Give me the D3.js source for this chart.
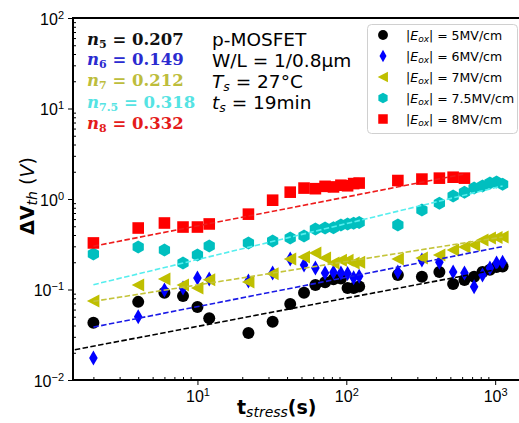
<!DOCTYPE html>
<html>
<head>
<meta charset="utf-8">
<script src="https://cdn.jsdelivr.net/npm/d3@7"></script>
<style>
  body { margin: 0; background: #fff; }
  svg { font-family: "DejaVu Sans", sans-serif; }
</style>
</head>
<body>
<div id="chart"></div>
<script>
// stress times (s)
const TIMES = [2, 4, 6, 8, 10, 12, 22, 32, 42, 52, 62, 72, 82, 92, 102, 112, 122,
  222, 322, 422, 522, 622, 722, 822, 922, 1022, 1122];

// delta Vth (V) per oxide field
const V_5MV = [0.043, 0.073, 0.092, 0.085, 0.064, 0.048, 0.033, 0.044, 0.069, 0.092, 0.112, 0.12, 0.13, 0.132, 0.104, 0.104, 0.108,
  0.145, 0.138, 0.156, 0.115, 0.127, 0.138, 0.156, 0.165, 0.177, 0.18];
const V_6MV = [0.0175, 0.05, 0.099, 0.104, 0.134, 0.131, 0.124, 0.152, 0.217, 0.187, 0.173, 0.152, 0.155, 0.152, 0.15, 0.135, 0.14,
  0.156, 0.212, 0.2, 0.156, 0.152, 0.107, 0.145, 0.173, 0.196, 0.2];
const V_7MV = [0.0746, 0.112, 0.131, 0.112, 0.104, 0.128, 0.121, 0.149, 0.217, 0.229, 0.253, 0.223, 0.196, 0.21, 0.21, 0.196, 0.2,
  0.217, 0.223, 0.24, 0.273, 0.295, 0.31, 0.352, 0.37, 0.375, 0.38];
const V_75MV = [0.247, 0.295, 0.273, 0.196, 0.24, 0.302, 0.327, 0.343, 0.37, 0.39, 0.466, 0.478, 0.48, 0.516, 0.53, 0.54, 0.55,
  0.516, 0.756, 0.9, 1.08, 1.19, 1.32, 1.39, 1.5, 1.54, 1.46];
const V_8MV = [0.327, 0.478, 0.543, 0.49, 0.49, 0.53, 0.68, 0.97, 1.19, 1.32, 1.3, 1.38, 1.36, 1.42, 1.4, 1.48, 1.5,
  1.6, 1.66, 1.7, 1.74, 1.7];

// power-law fit end points
const FIT_T = [[1.5, 1122], [2, 1122], [2, 1122], [2, 1122], [2, 622]];
const FIT_V = [[0.0216, 0.171], [0.0384, 0.298], [0.074, 0.381], [0.113, 1.395], [0.301, 1.89]];

const FIELD_LABELS = ["5MV/cm", "6MV/cm", "7MV/cm", "7.5MV/cm", "8MV/cm"];
const N_SUBS = ["5", "6", "7", "7.5", "8"];
const N_VALUES = ["0.207", "0.149", "0.212", "0.318", "0.332"];
const INFO_LINES = ["p-MOSFET", "W/L = 1/0.8μm", "T|s|= 27°C", "t|s|= 19min"];

const X_TICKS = [10, 100, 1000];
const Y_TICKS = [1e-2, 1e-1, 1e0, 1e1, 1e2];

const MARKER_COLORS = ["#000000", "#0000ff", "#bfbf00", "#00bfbf", "#ff0000"];
const LINE_COLORS = ["#000000", "#1a1ae6", "#c4c43a", "#55eeee", "#ee1c1c"];
const TEXT_COLORS = ["#111111", "#2b2bd0", "#bdbd3c", "#55e3e3", "#e41b1b"];

const WIDTH = 519, HEIGHT = 423;
const PLOT = { left: 73, right: 523, top: 18, bottom: 380 };

const svg = d3.select("#chart").append("svg")
  .attr("width", WIDTH).attr("height", HEIGHT);

const xScale = d3.scaleLog().domain([Math.pow(10, 0.164), Math.pow(10, 3.187)]).range([PLOT.left, PLOT.right]);
const yScale = d3.scaleLog().domain([1e-2, 1e2]).range([PLOT.bottom, PLOT.top]);

// marker shapes
function markerPath(kind, s) {
  s = s || 1;
  const p = d3.path();
  if (kind === 0) {
    p.arc(0, 0, 6 * s, 0, 2 * Math.PI);
  } else if (kind === 1) {
    p.moveTo(0, -7.5 * s); p.lineTo(4.3 * s, 0); p.lineTo(0, 7.5 * s); p.lineTo(-4.3 * s, 0);
  } else if (kind === 2) {
    p.moveTo(-6.5 * s, 0); p.lineTo(6 * s, -6.5 * s); p.lineTo(6 * s, 6.5 * s);
  } else if (kind === 3) {
    const r = 6.5 * s;
    for (let i = 0; i < 6; i++) {
      const a = -Math.PI / 2 + i * Math.PI / 3;
      if (i === 0) p.moveTo(r * Math.cos(a), r * Math.sin(a));
      else p.lineTo(r * Math.cos(a), r * Math.sin(a));
    }
  } else {
    p.rect(-5.8 * s, -5.8 * s, 11.6 * s, 11.6 * s);
  }
  p.closePath();
  return p.toString();
}

svg.append("clipPath").attr("id", "plotclip").append("rect")
  .attr("x", PLOT.left).attr("y", PLOT.top)
  .attr("width", PLOT.right - PLOT.left).attr("height", PLOT.bottom - PLOT.top);

const plotG = svg.append("g").attr("clip-path", "url(#plotclip)");

const allSeries = [V_5MV, V_6MV, V_7MV, V_75MV, V_8MV];

allSeries.forEach((vals, k) => {
  plotG.selectAll(".m" + k)
    .data(vals)
    .enter()
    .append("path")
    .attr("class", "m" + k)
    .attr("d", markerPath(k))
    .attr("transform", (d, i) => "translate(" + xScale(TIMES[i]) + "," + yScale(d) + ")")
    .attr("fill", MARKER_COLORS[k]);
});

// dashed fits
FIT_T.forEach((tt, k) => {
  const pts = [[tt[0], FIT_V[k][0]], [tt[1], FIT_V[k][1]]];
  plotG.append("path")
    .attr("d", d3.line().x(d => xScale(d[0])).y(d => yScale(d[1]))(pts))
    .attr("stroke", LINE_COLORS[k])
    .attr("stroke-width", 1.6)
    .attr("stroke-dasharray", "5.5,2.4")
    .attr("fill", "none");
});

// axes
function minorTicks(lo, hi) {
  const out = [];
  for (let e = lo; e < hi; e++) {
    for (let m = 2; m <= 9; m++) out.push(m * Math.pow(10, e));
  }
  return out;
}

function powLabel(sel, v) {
  const e = Math.round(Math.log10(v));
  sel.text("");
  sel.append("tspan").text("10");
  sel.append("tspan").attr("dy", "-0.55em").attr("font-size", "11px").text(e < 0 ? "\u2212" + (-e) : "" + e);
}

const xAxisG = svg.append("g").attr("transform", "translate(0," + PLOT.bottom + ")")
  .call(d3.axisBottom(xScale).tickValues(X_TICKS).tickSize(5).tickPadding(6));
const xMinor = svg.append("g").attr("transform", "translate(0," + PLOT.bottom + ")")
  .call(d3.axisBottom(xScale).tickValues(minorTicks(0, 4).filter(v => v > 1.46 && v < 1530)).tickSize(-3).tickFormat(""));
const yAxisG = svg.append("g").attr("transform", "translate(" + PLOT.left + ",0)")
  .call(d3.axisLeft(yScale).tickValues(Y_TICKS).tickSize(5).tickPadding(4));
const yMinor = svg.append("g").attr("transform", "translate(" + PLOT.left + ",0)")
  .call(d3.axisLeft(yScale).tickValues(minorTicks(-2, 2)).tickSize(-3).tickFormat(""));

[xAxisG, xMinor, yAxisG, yMinor].forEach(g => {
  g.select(".domain").remove();
  g.selectAll("line").attr("stroke", "#000").attr("stroke-width", 1);
});
xAxisG.selectAll("text").attr("font-size", "16px").attr("fill", "#000").each(function (d) { powLabel(d3.select(this), d); });
yAxisG.selectAll("text").attr("font-size", "16px").attr("fill", "#000").attr("dy", "0.4em").each(function (d) { powLabel(d3.select(this), d); });

// spines (right side falls outside the crop)
svg.append("rect")
  .attr("x", PLOT.left).attr("y", PLOT.top)
  .attr("width", PLOT.right - PLOT.left).attr("height", PLOT.bottom - PLOT.top)
  .attr("fill", "none").attr("stroke", "#000").attr("stroke-width", 2);

// axis titles
const xt = svg.append("text").attr("x", 237).attr("y", 414).attr("font-size", "19px").attr("fill", "#000");
xt.append("tspan").attr("font-weight", "bold").text("t");
xt.append("tspan").attr("font-style", "italic").attr("font-size", "14px").attr("dy", "3").text("stress");
xt.append("tspan").attr("font-weight", "bold").attr("dy", "-3").text("(s)");

const yt = svg.append("text").attr("transform", "translate(34,196) rotate(-90)")
  .attr("text-anchor", "middle").attr("font-size", "19px").attr("fill", "#000");
yt.append("tspan").attr("font-weight", "bold").text("ΔV");
yt.append("tspan").attr("font-style", "italic").attr("font-size", "14px").attr("dy", "3").text("th");
yt.append("tspan").attr("dy", "-3").text(" (");
yt.append("tspan").attr("font-style", "italic").text("V");
yt.append("tspan").text(")");

// n annotations
const N_Y = [45, 65, 86, 108, 129];
N_SUBS.forEach((s, k) => {
  const t = svg.append("text").attr("x", 87).attr("y", N_Y[k])
    .attr("font-family", "'DejaVu Serif', serif").attr("font-weight", "bold")
    .attr("font-size", "16.5px").attr("fill", TEXT_COLORS[k]);
  t.append("tspan").attr("font-style", "italic").text("n");
  t.append("tspan").attr("font-size", "11px").attr("dy", "3").text(s);
  t.append("tspan").attr("dy", "-3").text(" = " + N_VALUES[k]);
});

// device info
const INFO_Y = [46, 67, 88, 109];
INFO_LINES.forEach((line, k) => {
  const t = svg.append("text").attr("x", 212).attr("y", INFO_Y[k])
    .attr("font-size", "18.5px").attr("fill", "#000");
  const parts = line.split("|");
  if (parts.length === 1) {
    t.text(line);
  } else {
    t.append("tspan").attr("font-style", "italic").text(parts[0]);
    t.append("tspan").attr("font-style", "italic").attr("font-size", "12.5px").attr("dy", "3").text(parts[1]);
    t.append("tspan").attr("dy", "-3").text(" " + parts[2]);
  }
});

// legend
const legend = svg.append("g");
legend.append("rect")
  .attr("x", 367.5).attr("y", 24.5).attr("width", 150).attr("height", 109).attr("rx", 4)
  .attr("fill", "#fff").attr("fill-opacity", 0.8).attr("stroke", "#d0d0d0");
FIELD_LABELS.forEach((lab, k) => {
  const cy = 35 + k * 21;
  legend.append("path").attr("d", markerPath(k, 0.82))
    .attr("transform", "translate(383," + cy + ")").attr("fill", MARKER_COLORS[k]);
  const t = legend.append("text").attr("x", 406).attr("y", cy + 4.5)
    .attr("font-size", "12.5px").attr("fill", "#000");
  t.append("tspan").text("|");
  t.append("tspan").attr("font-style", "italic").text("E");
  t.append("tspan").attr("font-style", "italic").attr("font-size", "9px").attr("dy", "2").text("ox");
  t.append("tspan").attr("dy", "-2").text("| = " + lab);
});
</script>
</body>
</html>
